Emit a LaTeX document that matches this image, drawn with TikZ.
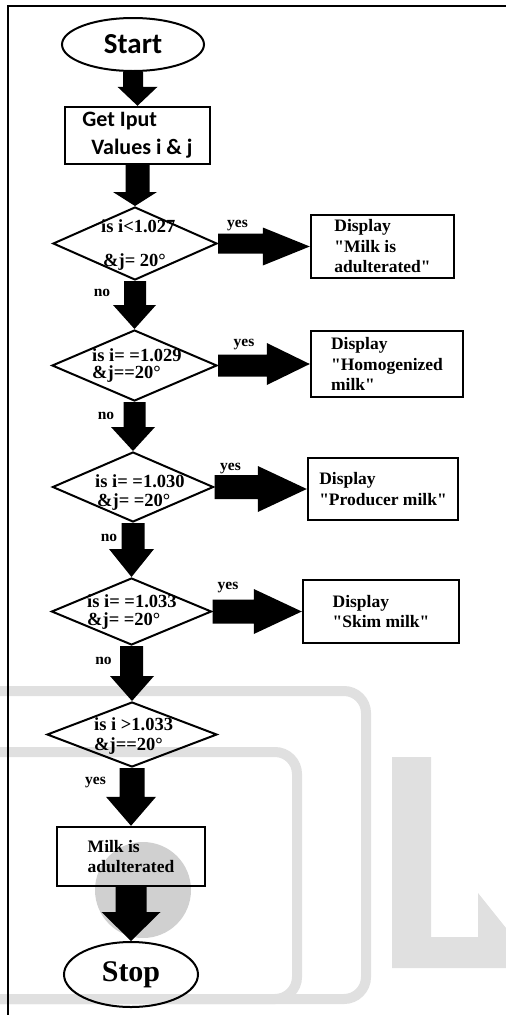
\documentclass[tikz,border=0pt]{standalone}
\usepackage{fontspec}
\setmainfont{Liberation Serif}[Ligatures=TeXOff]
\newfontfamily\calfont{Carlito}
\usetikzlibrary{shapes.geometric,calc}
\definecolor{wmgray}{RGB}{224,224,224}
\definecolor{wmcirc}{RGB}{208,208,208}
\newcommand{\dq}{\symbol{34}}
% vertical block arrow: from, to, shaft half width, head half width, head length
\newcommand{\vblock}[5]{%
  \fill let \p1=(#1), \p2=(#2) in
    (\x1-#3,\y1) -- (\x1-#3,\y2+#5) -- (\x2-#4,\y2+#5) -- (\x2,\y2) --
    (\x2+#4,\y2+#5) -- (\x1+#3,\y2+#5) -- (\x1+#3,\y1) -- cycle;}
% horizontal block arrow
\newcommand{\hblock}[5]{%
  \fill let \p1=(#1), \p2=(#2) in
    (\x1,\y1+#3) -- (\x2-#5,\y1+#3) -- (\x2-#5,\y2+#4) -- (\x2,\y2) --
    (\x2-#5,\y2-#4) -- (\x2-#5,\y1-#3) -- (\x1,\y1-#3) -- cycle;}
\begin{document}
\begin{tikzpicture}[x=1pt,y=-1pt,
  term/.style={ellipse, draw, line width=2pt, inner sep=0pt},
  proc/.style={rectangle, draw, line width=2.4pt, inner sep=0pt, align=left,
    font=\fontsize{17.5}{20.5}\selectfont\bfseries},
  dec/.style={diamond, draw, line width=2pt, inner sep=0pt},
  dtxt/.style={anchor=west, align=left, inner sep=0pt,
    font=\fontsize{18.5}{18}\selectfont\bfseries},
  lbl/.style={inner sep=0pt, font=\fontsize{15.5}{15.5}\selectfont\bfseries},
  wm/.style={draw=wmgray, line width=10pt, rounded corners=22pt}]
\fill[white] (0,0) rectangle (506,1015);
\useasboundingbox (0,0) rectangle (506,1015);
% watermark
\fill[wmcirc] (143,890) circle[radius=48];
\draw[wm] (-10,691) -- (366,691) -- (366,999) -- (-10,999);
\draw[wm] (-10,752) -- (297,752) -- (297,999) -- (-10,999);
\fill[wmgray] (392,757) -- (431,757) -- (431,937) -- (478,937) -- (478,893)
  -- (506,928) -- (506,968) -- (392,968) -- cycle;
% frame
\draw[line width=1.6pt] (8,1015) -- (8,6) -- (506,6);
% nodes
\node[term, minimum width=142pt, minimum height=53pt,
  font=\calfont\bfseries\fontsize{29}{29}\selectfont] (start) at (133,44.5) {Start};
\node[proc, minimum width=145pt, minimum height=57pt,
  font=\calfont\bfseries\fontsize{22}{28}\selectfont] (get) at (137.5,135.5)
  {Get Iput\\\hspace*{9pt}Values i \& j};
\node[dec, minimum width=164pt, minimum height=73pt] (d1) at (135,243.5) {};
\node[dec, minimum width=165pt, minimum height=71pt] (d2) at (134.5,365.5) {};
\node[dec, minimum width=161pt, minimum height=70pt] (d3) at (133,487) {};
\node[dec, minimum width=160pt, minimum height=67pt] (d4) at (131.5,611.5) {};
\node[dec, minimum width=170pt, minimum height=65pt] (d5) at (132,734.5) {};
\node[dtxt] (t1a) at (101,226) {is i<1.027};
\node[dtxt] (t1b) at (103,262) {\&j= 20°};
\node[dtxt, font=\fontsize{18.5}{17}\selectfont\bfseries] (t2) at (92,365.5) {is i= =1.029\\\&j==20°};
\node[dtxt, font=\fontsize{18.5}{19}\selectfont\bfseries] (t3) at (95,492.5) {is i= =1.030\\\hspace*{2pt}\&j= =20°};
\node[dtxt] (t4) at (87,612) {is i= =1.033\\\&j= =20°};
\node[dtxt, font=\fontsize{18.5}{20}\selectfont\bfseries] (t5) at (94,736) {is i >1.033\\\&j==20°};
\node[proc, minimum width=143pt, minimum height=63pt] (b1) at (382.5,246.5)
  {Display\\\dq Milk is\\adulterated\dq};
\node[proc, minimum width=152pt, minimum height=66pt] (b2) at (387,364)
  {Display\\\dq Homogenized\\milk\dq};
\node[proc, minimum width=150pt, minimum height=62pt] (b3) at (383,489)
  {Display\\\dq Producer milk\dq};
\node[proc, minimum width=156pt, minimum height=63pt] (b4) at (381,611.5)
  {Display\\\dq Skim milk\dq};
\node[proc, minimum width=148pt, minimum height=59pt] (b5) at (131,856.5)
  {Milk is\\adulterated};
\node[term, minimum width=134pt, minimum height=65pt,
  font=\fontsize{30}{30}\selectfont\bfseries] (stop) at (131,974.5) {Stop};
% labels
\node[lbl] (y1) at (237.5,226) {yes};
\node[lbl] (y2) at (244,345) {yes};
\node[lbl] (y3) at (230.5,469) {yes};
\node[lbl] (y4) at (228,588) {yes};
\node[lbl] (y5) at (95.5,783) {yes};
\node[lbl] (n1) at (102,293) {no};
\node[lbl] (n2) at (106,416) {no};
\node[lbl] (n3) at (109,538) {no};
\node[lbl] (n4) at (103.5,661) {no};
% vertical block arrows
\vblock{start.south}{get.north}{10pt}{20pt}{19pt}
\vblock{get.south}{d1.north}{12pt}{22pt}{14pt}
\vblock{d1.south}{d2.north}{11pt}{21.5pt}{24pt}
\vblock{d2.south}{d3.north}{11pt}{22pt}{24pt}
\vblock{d3.south}{d4.north}{11.5pt}{22.5pt}{28pt}
\vblock{d4.south}{d5.north}{11.5pt}{22pt}{25pt}
\vblock{d5.south}{b5.north}{12.5pt}{25pt}{29pt}
\vblock{b5.south}{stop.north}{15.5pt}{29.5pt}{29pt}
% horizontal block arrows
\hblock{d1.east}{b1.west}{10pt}{19pt}{47pt}
\hblock{d2.east}{b2.west}{11pt}{21pt}{43pt}
\hblock{d3.east}{b3.west}{12pt}{23pt}{49pt}
\hblock{d4.east}{b4.west}{12pt}{22.5pt}{48pt}
\end{tikzpicture}
\end{document}
